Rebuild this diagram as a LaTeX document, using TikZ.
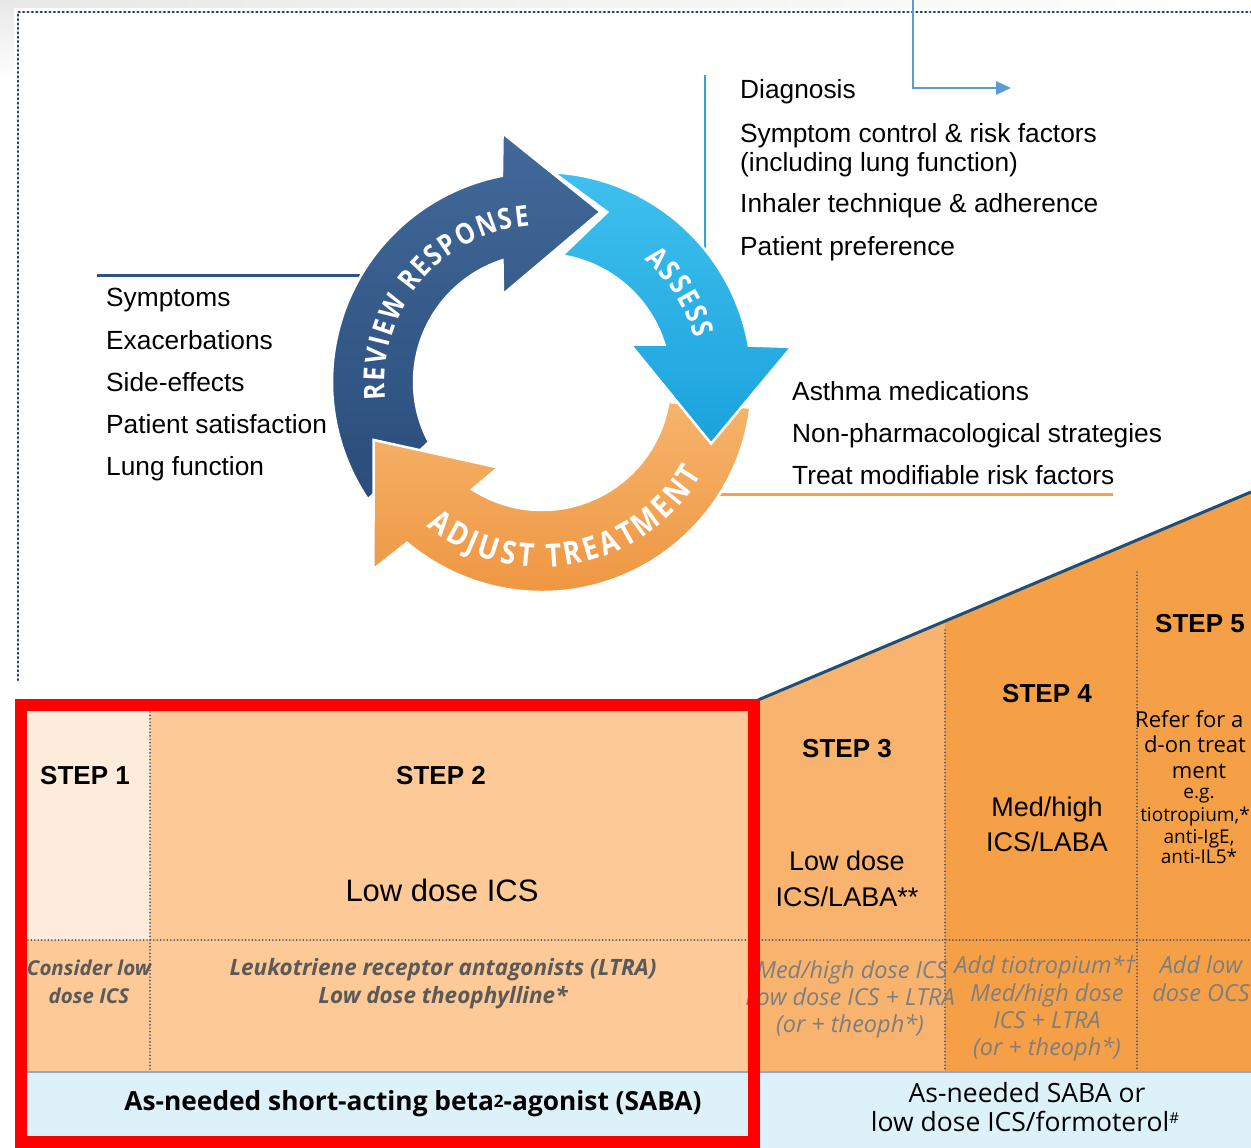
\documentclass[tikz,border=0pt]{standalone}
\usepackage{fontspec}
\setmainfont{Liberation Sans}
\newfontfamily\osans{Open Sans}
\newfontfamily\osansn{Open Sans}[FakeStretch=0.85]
\usetikzlibrary{arrows.meta,calc}
\definecolor{frameblue}{HTML}{203864}
\definecolor{linkblue}{HTML}{5B9BD5}
\definecolor{cyanline}{HTML}{2FA4DC}
\definecolor{navyline}{HTML}{2E5283}
\definecolor{orangeline}{HTML}{F4A24E}
\definecolor{stepA}{HTML}{FDEBDC}
\definecolor{stepB}{HTML}{FDC996}
\definecolor{stepC}{HTML}{F8B36E}
\definecolor{stepD}{HTML}{F5A047}
\definecolor{sabablue}{HTML}{DDF1F9}
\definecolor{sabaline}{HTML}{8EA9C8}
\definecolor{wedgeline}{HTML}{1F4E79}
\definecolor{dotgray}{HTML}{4A5568}
\definecolor{grayA}{HTML}{5A5A5A}
\definecolor{grayB}{HTML}{7E7E7E}
\definecolor{revtop}{HTML}{42699A}
\definecolor{revbot}{HTML}{2A4D7B}
\definecolor{asstop}{HTML}{3FC0EE}
\definecolor{assbot}{HTML}{1BA2DC}
\definecolor{adjtop}{HTML}{F6B46C}
\definecolor{adjbot}{HTML}{EE9540}
\tikzset{
  lbl/.style={font=\fontsize{26.3}{30}\selectfont, anchor=base west, inner sep=0},
  steplbl/.style={font=\bfseries\fontsize{26}{30}\selectfont, anchor=base, inner sep=0},
  medlbl/.style={font=\fontsize{27}{31}\selectfont, anchor=base, inner sep=0},
  bigmed/.style={font=\fontsize{31}{35}\selectfont, anchor=base, inner sep=0},
  sfive/.style={font=\osans\fontsize{22}{26}\selectfont, inner sep=0},
  sfives/.style={font=\osans\fontsize{19}{22}\selectfont, inner sep=0, anchor=base},
  addl/.style={font=\osans\bfseries\itshape\fontsize{22.5}{26}\selectfont, text=grayA, anchor=base, inner sep=0},
  addls/.style={font=\osans\bfseries\itshape\fontsize{20.5}{24}\selectfont, text=grayA, anchor=base, inner sep=0},
  addr/.style={font=\osans\itshape\fontsize{23.5}{26}\selectfont, text=grayB, anchor=base, inner sep=0},
  saba/.style={font=\osans\fontsize{26.5}{30}\selectfont, anchor=base, inner sep=0},
  dotline/.style={dotgray, line width=1.9pt, dash pattern=on 0pt off 3.4pt, line cap=round},
  cyclearrow/.style={draw=white, line width=2.5pt, line join=miter},
  arcletter/.style={font=\osansn\bfseries\fontsize{29}{29}\selectfont, text=white, inner sep=0pt, anchor=base},
  arcletterb/.style={font=\osansn\bfseries\fontsize{32}{32}\selectfont, text=white, inner sep=0pt, anchor=base},
}
\begin{document}
\begin{tikzpicture}[x=1pt,y=-1pt]
\useasboundingbox (0,0) rectangle (1251,1148);
\begin{scope}
\clip (0,0) rectangle (1251,1148);
\fill[white] (0,0) rectangle (1251,1148);
\shade[left color=black!9, right color=white] (0,0) rectangle (1251,8);
\shade[top color=black!9, bottom color=white] (0,0) rectangle (14,80);

% dotted frame
\coordinate (fA) at (18,680);
\coordinate (fB) at (18,12);
\coordinate (fC) at (1251,12);
\draw[frameblue, line width=2.7pt, dash pattern=on 0.8pt off 3.6pt, line cap=round] (fA) -- (fB) -- (fC);

% top link arrow
\coordinate (ta) at (913,0);
\coordinate (tb) at (1011,88);
\draw[linkblue, line width=2.5pt, -{Triangle[length=15pt,width=13pt]}] (ta) |- (tb);

% guide lines
\coordinate (cl1) at (705,75);
\coordinate (cl2) at (705,255);
\draw[cyanline, line width=2.5pt] (cl1) -- (cl2);
\coordinate (nl1) at (97,275);
\coordinate (nl2) at (370,275);
\draw[navyline, line width=3pt] (nl1) -- (nl2);
\coordinate (ol1) at (712,494);
\coordinate (ol2) at (1113,494);
\draw[orangeline, line width=3pt] (ol1) -- (ol2);

% texts
\node[lbl] (t1) at (740,99) {Diagnosis};
\node[lbl] (t2) at (740,142) {Symptom control \& risk factors};
\node[lbl] (t3) at (740,171) {(including lung function)};
\node[lbl] (t4) at (740,212) {Inhaler technique \& adherence};
\node[lbl] (t5) at (740,255) {Patient preference};
\node[lbl] (l1) at (106,306) {Symptoms};
\node[lbl] (l2) at (106,349) {Exacerbations};
\node[lbl] (l3) at (106,391) {Side-effects};
\node[lbl] (l4) at (106,433) {Patient satisfaction};
\node[lbl] (l5) at (106,475) {Lung function};
\node[lbl] (r1) at (792,400) {Asthma medications};
\node[lbl] (r2) at (792,442) {Non-pharmacological strategies};
\node[lbl] (r3) at (792,484) {Treat modifiable risk factors};

% cycle
\coordinate (C) at (542,382);
\path[cyclearrow, top color=revtop, bottom color=revbot]
  ([shift={(146:210)}]C) arc[start angle=146, end angle=259, radius=210]
  -- ([shift={(261:252)}]C) -- ([shift={(289:180)}]C) -- ([shift={(246:96)}]C)
  -- ([shift={(252:128)}]C) arc[start angle=252, end angle=152, radius=128] -- cycle;
\path[cyclearrow, top color=adjtop, bottom color=adjbot]
  ([shift={(7:210)}]C) arc[start angle=7, end angle=130, radius=210]
  -- ([shift={(132:252)}]C) -- ([shift={(161:178)}]C) -- ([shift={(117:96)}]C)
  -- ([shift={(123:128)}]C) arc[start angle=123, end angle=9, radius=128] -- cycle;
\path[cyclearrow, top color=asstop, bottom color=assbot]
  ([shift={(273:210)}]C) arc[start angle=273, end angle=350, radius=210]
  -- ([shift={(352:252)}]C) -- ([shift={(380:180)}]C) -- ([shift={(337:96)}]C)
  -- ([shift={(343:128)}]C) arc[start angle=343, end angle=279, radius=128]
  -- ([shift={(291:182)}]C) -- cycle;

% lettering on the cycle
\foreach \ch/\ang [count=\k] in {R/176.4,E/182.6,V/188.8,I/194.0,E/198.8,W/206.4,R/217.5,E/223.7,S/229.4,P/235.5,O/242.6,N/250.5,S/257.3,E/263.0}
  \node[arcletter, rotate={-\ang-90}] (rv\k) at ([shift={(\ang:157)}]C) {\ch};
\foreach \ch/\ang [count=\k] in {A/312.9,S/319.1,S/324.8,E/330.5,S/336.1,S/341.8}
  \node[arcletter, rotate={-\ang-90}] (as\k) at ([shift={(\ang:159)}]C) {\ch};
\foreach \ch/\ang [count=\k] in {A/125.6,D/118.6,J/113.2,U/107.7,S/101.0,T/95.2,T/86.1,R/79.8,E/73.6,A/67.3,T/60.9,M/53.5,E/46.1,N/39.3,T/32.4}
  \node[arcletterb, rotate={90-\ang}] (ad\k) at ([shift={(\ang:185)}]C) {\ch};

% steps area
\fill[stepC] (760,700) -- (945,621) -- (945,1072) -- (760,1072) -- cycle;
\fill[stepD] (945,621) -- (1251,492) -- (1251,1072) -- (945,1072) -- cycle;
\coordinate (w1) at (758,700);
\coordinate (w2) at (1251,492);
\draw[wedgeline, line width=3pt] (w1) -- (w2);
\fill[stepA] (27,711) rectangle (150,940);
\fill[stepB] (150,711) rectangle (750,940);
\fill[stepB] (27,940) rectangle (750,1072);
\fill[sabablue] (27,1072) rectangle (1251,1148);
\coordinate (sb1) at (27,1072);
\coordinate (sb2) at (1251,1072);
\draw[sabaline, line width=1.5pt] (sb1) -- (sb2);

\coordinate (dv1a) at (150,712);
\coordinate (dv1b) at (150,1071);
\draw[dotline] (dv1a) -- (dv1b);
\coordinate (dh1) at (28,940);
\coordinate (dh2) at (1251,940);
\draw[dotline] (dh1) -- (dh2);
\coordinate (dv3a) at (945,630);
\coordinate (dv3b) at (945,1071);
\draw[dotline] (dv3a) -- (dv3b);
\coordinate (dv4a) at (1137,572);
\coordinate (dv4b) at (1137,1071);
\draw[dotline] (dv4a) -- (dv4b);

\node[steplbl] (s1) at (85,784) {STEP 1};
\node[steplbl] (s2) at (441,784) {STEP 2};
\node[steplbl] (s3) at (847,757) {STEP 3};
\node[steplbl] (s4) at (1047,702) {STEP 4};
\node[steplbl] (s5) at (1200,632) {STEP 5};
\node[bigmed] (m2) at (442,901) {Low dose ICS};
\node[medlbl] (m3a) at (847,870) {Low dose};
\node[medlbl] (m3b) at (847,906) {ICS/LABA**};
\node[medlbl] (m4a) at (1047,816) {Med/high};
\node[medlbl] (m4b) at (1047,851) {ICS/LABA};
\node[sfive, anchor=base west] (f1) at (1135,727) {Refer for a};
\node[sfive, anchor=base west] (f2) at (1144,752) {d-on treat};
\node[sfive, anchor=base] (f3) at (1199,778) {ment};
\node[sfives] (f4) at (1199,798) {e.g.};
\node[sfives] (f5) at (1195,821) {tiotropium,*};
\node[sfives] (f6) at (1199,843) {anti-IgE,};
\node[sfives] (f7) at (1199,863) {anti-IL5*};

\node[addls] (a1) at (89,975) {Consider low};
\node[addls] (a2) at (89,1003) {dose ICS};
\node[addl] (a3) at (443,975) {Leukotriene receptor antagonists (LTRA)};
\node[addl] (a4) at (443,1003) {Low dose theophylline*};
\node[addr] (b1) at (852,978) {Med/high dose ICS};
\node[addr] (b2) at (850,1005) {Low dose ICS + LTRA};
\node[addr] (b3) at (850,1032) {(or + theoph*)};
\node[addr] (c1) at (1045,973) {Add tiotropium*†};
\node[addr] (c2) at (1047,1001) {Med/high dose};
\node[addr] (c3) at (1047,1028) {ICS + LTRA};
\node[addr] (c4) at (1047,1055) {(or + theoph*)};
\node[addr] (e1) at (1201,973) {Add low};
\node[addr] (e2) at (1201,1001) {dose OCS};

\node[saba, font=\osans\bfseries\fontsize{26.3}{30}\selectfont] (q1) at (413,1110) {As-needed short-acting beta{\fontsize{17}{17}\selectfont\raisebox{3pt}{2}}-agonist (SABA)};
\node[saba] (q2) at (1027,1102) {As-needed SABA or};
\node[saba] (q3) at (1025,1131) {low dose ICS/formoterol\raisebox{8pt}{\fontsize{15}{15}\selectfont\#}};

% red frame
\draw[red, line width=12pt] (21,705) rectangle (754,1142);
\end{scope}
\end{tikzpicture}
\end{document}
